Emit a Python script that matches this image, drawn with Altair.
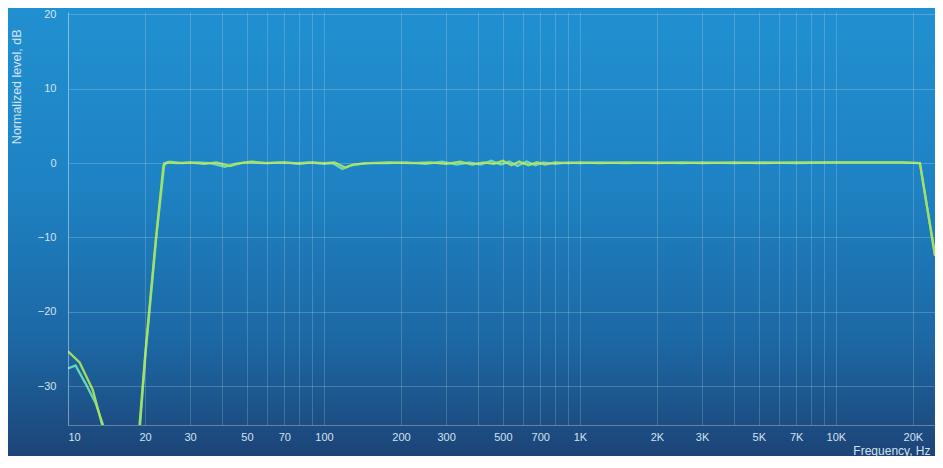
import altair as alt
import pandas as pd

# ---- data ----
freq_L = [10, 11.1, 12.5, 13.7, 15, 18, 19.0, 20.0, 20.8, 22.0, 23.6, 24.5, 27, 30, 34, 38, 43, 47, 52, 60,
          70, 80, 90, 100, 110, 121, 130, 150, 180, 220, 260, 300, 340, 380, 420, 460, 500, 540,
          580, 630, 680, 730, 800, 900, 1000, 1200, 1500, 2000, 2500, 3000, 4000, 5000, 7000,
          10000, 14000, 18000, 21300, 24400]
db_L = [-25.3, -26.8, -30.5, -35.6, -50, -50, -35.5, -26.0, -19.5, -10.5, -0.3, 0.1, 0.0, 0.1, -0.1, 0.1, -0.4, 0.0, 0.2, 0.0,
        0.1, -0.1, 0.1, 0.0, 0.1, -0.6, -0.2, 0.0, 0.1, 0.0, 0.1, -0.1, 0.2, -0.2, 0.1, -0.1, 0.3, -0.3,
        0.2, -0.3, 0.1, -0.2, 0.1, 0.0, 0.1, 0.0, 0.1, 0.0, 0.1, 0.0, 0.1, 0.0, 0.1,
        0.1, 0.1, 0.1, 0.0, -12.5]
freq_R = [10, 10.7, 11.7, 12.8, 13.9, 15, 18, 19.1, 20.1, 21.0, 22.2, 23.8, 25, 28, 32, 36, 41, 45, 50, 58,
          68, 78, 88, 100, 108, 118, 128, 145, 175, 210, 250, 290, 330, 370, 410, 450, 490, 530,
          570, 620, 670, 720, 800, 900, 1000, 1200, 1500, 2000, 2500, 3000, 4000, 5000, 7000,
          10000, 14000, 18000, 21300, 24400]
db_R = [-27.6, -27.2, -29.6, -32.2, -35.8, -50, -50, -35.5, -25.5, -18.5, -9.5, 0.0, 0.2, 0.0, 0.1, 0.0, -0.5, -0.1, 0.1, 0.0,
        0.1, 0.0, 0.1, -0.1, 0.0, -0.8, -0.3, 0.0, 0.0, 0.1, -0.1, 0.2, -0.2, 0.1, -0.2, 0.3, -0.2, 0.2,
        -0.4, 0.2, -0.3, 0.1, -0.1, 0.1, 0.0, 0.1, 0.0, 0.1, 0.0, 0.1, 0.0, 0.1, 0.0,
        0.1, 0.1, 0.1, 0.0, -12.3]

tick_labels = [10, 20, 30, 50, 70, 100, 200, 300, 500, 700, 1000, 2000, 3000, 5000, 7000, 10000, 20000]
grid_vals = ([v for v in range(10, 100, 10)] + [v for v in range(100, 1000, 100)]
             + [v for v in range(1000, 10000, 1000)] + [10000, 20000])
y_ticks = [-30, -20, -10, 0, 10, 20]

df = pd.concat([
    pd.DataFrame({"freq": freq_R, "db": db_R, "ch": "R", "ord": range(len(freq_R))}),
    pd.DataFrame({"freq": freq_L, "db": db_L, "ch": "L", "ord": range(len(freq_L))}),
])

W, H = 867, 413
PAD = {"left": 60, "top": 4, "right": 0, "bottom": 31}

label_expr = ("indexof([" + ",".join(str(v) for v in tick_labels) + "], datum.value) >= 0 ? "
              "(datum.value >= 1000 ? (datum.value / 1000) + 'K' : '' + datum.value) : ''")

grad = alt.Gradient(
    gradient="linear", x1=0, x2=0, y1=0, y2=1,
    stops=[alt.GradientStop(color="#2190d0", offset=0),
           alt.GradientStop(color="#1e82c3", offset=0.4),
           alt.GradientStop(color="#1c67a3", offset=0.75),
           alt.GradientStop(color="#1d4477", offset=1)],
)

bg = alt.Chart(alt.Data(values=[{}])).mark_rect(fill=grad, clip=False).encode(
    x=alt.value(-PAD["left"]), x2=alt.value(W + PAD["right"]),
    y=alt.value(-PAD["top"]), y2=alt.value(H + PAD["bottom"]),
)

label_color = "#d2e2f0"

lines = alt.Chart(df).mark_line(clip=True, strokeWidth=2.3, opacity=0.95).encode(
    x=alt.X("freq:Q",
            scale=alt.Scale(type="log", domain=[10, 24400], nice=False),
            axis=alt.Axis(values=grid_vals, labelExpr=label_expr, title="Frequency, Hz",
                          grid=True, gridColor="#ffffff", gridOpacity=0.18, gridWidth=1,
                          ticks=False, labelPadding=6, labelFontSize=11, labelColor=label_color,
                          labelFont="Liberation Sans", labelOverlap=False,
                          domainColor="#ffffff", domainOpacity=0.3,
                          titleFont="Liberation Sans", titleFontSize=12, titleFontWeight="normal",
                          titleColor=label_color, titleAlign="right", titleBaseline="middle",
                          titleX=W - 5, titleY=25, zindex=1)),
    y=alt.Y("db:Q",
            scale=alt.Scale(domain=[-35.2, 20.3], nice=False, zero=False),
            axis=alt.Axis(values=y_ticks, title="Normalized level, dB",
                          grid=True, gridColor="#ffffff", gridOpacity=0.2, gridWidth=1,
                          ticks=False, labelPadding=12, labelFontSize=11, labelColor=label_color,
                          labelFont="Liberation Sans",
                          domainColor="#ffffff", domainOpacity=0.3,
                          titleFont="Liberation Sans", titleFontSize=12.5, titleFontWeight="normal",
                          titleColor=label_color, titleAngle=-90, titleAlign="right",
                          titleBaseline="middle", titleX=-52, titleY=17, zindex=1)),
    color=alt.Color("ch:N", scale=alt.Scale(domain=["R", "L"], range=["#6fdcb2", "#a8e35a"]),
                    legend=None),
    detail="ch:N",
    order="ord:Q",
)

chart = alt.layer(bg, lines).properties(
    width=W, height=H,
    autosize=alt.AutoSizeParams(type="none"),
    padding=PAD,
    background="#1d6fae",
).configure_view(stroke=None)

chart.save("out.html", embed_options={"renderer": "svg", "actions": False})
